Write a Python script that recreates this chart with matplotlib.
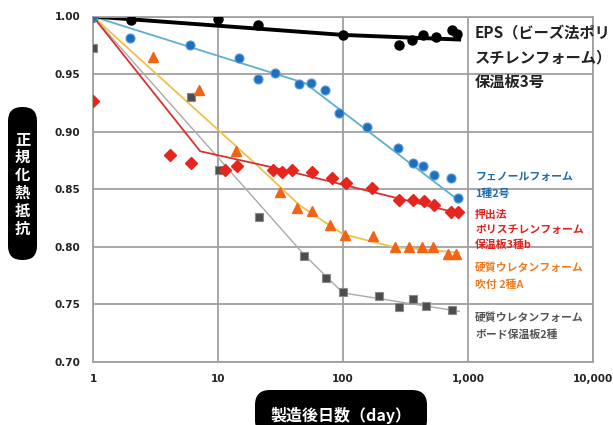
import matplotlib
matplotlib.use("Agg")
import matplotlib.pyplot as plt
from matplotlib.patches import FancyBboxPatch
from matplotlib.transforms import IdentityTransform
from matplotlib.ticker import FixedLocator, NullLocator

plt.rcParams["font.family"] = ["Noto Sans CJK JP", "DejaVu Sans"]

# EPS (bead method polystyrene foam)
eps_x = [1, 2.0, 10, 21, 100, 280, 355, 436, 553, 740, 810]
eps_y = [1.0, 0.997, 0.998, 0.993, 0.984, 0.975, 0.980, 0.984, 0.982, 0.988, 0.985]
eps_fit_x = [1, 100, 850]
eps_fit_y = [1.0, 0.984, 0.980]

# phenolic foam
phe_x = [1, 1.98, 6.0, 14.8, 21, 28.6, 44.8, 55, 72, 93, 156, 277, 361, 439, 535, 731, 827]
phe_y = [1.0, 0.981, 0.975, 0.964, 0.946, 0.951, 0.941, 0.942, 0.936, 0.916, 0.904,
         0.886, 0.873, 0.870, 0.862, 0.860, 0.842]
phe_fit_x = [1, 50, 850]
phe_fit_y = [1.0, 0.942, 0.840]

# extruded polystyrene foam
xps_x = [1, 4.13, 6.08, 11.4, 14.1, 27.7, 32.3, 38.9, 56, 81, 106, 170, 282, 364, 447,
         535, 731, 827]
xps_y = [0.927, 0.880, 0.873, 0.867, 0.870, 0.867, 0.865, 0.867, 0.865, 0.860, 0.855,
         0.851, 0.841, 0.841, 0.840, 0.836, 0.830, 0.830]
xps_fit_x = [1, 7.2, 30, 850]
xps_fit_y = [1.0, 0.883, 0.868, 0.829]

# spray rigid urethane foam
spr_x = [3.04, 7.05, 13.9, 31.3, 42.7, 56, 78.7, 104, 174, 261, 340, 425, 521, 697, 797]
spr_y = [0.965, 0.936, 0.883, 0.848, 0.834, 0.831, 0.819, 0.810, 0.809, 0.800, 0.800,
         0.800, 0.800, 0.794, 0.794]
spr_fit_x = [1, 20, 45, 100, 250, 850]
spr_fit_y = [1.0, 0.872, 0.836, 0.811, 0.800, 0.795]

# rigid urethane foam board
brd_x = [1, 6.08, 10.1, 21.2, 49, 73, 99.5, 195, 282, 364, 459, 750]
brd_y = [0.973, 0.930, 0.867, 0.826, 0.792, 0.773, 0.761, 0.757, 0.748, 0.755, 0.749, 0.745]
brd_fit_x = [1, 49, 100, 850]
brd_fit_y = [1.0, 0.793, 0.760, 0.744]

x_ticks = [1, 10, 100, 1000, 10000]
x_tick_labels = ["1", "10", "100", "1,000", "10,000"]
y_ticks = [0.70, 0.75, 0.80, 0.85, 0.90, 0.95, 1.00]

fig = plt.figure(figsize=(6.13, 4.25), dpi=100)
ax = fig.add_axes([93 / 613, 1 - 362 / 425, 500 / 613, 345.5 / 425])
ax.set_xscale("log")
ax.set_xlim(1, 10000)
ax.set_ylim(0.70, 1.00)

grid_c = "#a0a0a0"
ax.xaxis.set_major_locator(FixedLocator(x_ticks))
ax.xaxis.set_minor_locator(NullLocator())
ax.set_xticklabels(x_tick_labels)
ax.set_yticks(y_ticks)
ax.set_yticklabels([f"{v:.2f}" for v in y_ticks])
ax.grid(True, color=grid_c, lw=1.3)
ax.set_axisbelow(True)
for s in ax.spines.values():
    s.set_color(grid_c)
    s.set_linewidth(1.3)
ax.tick_params(length=0, labelsize=7.5, colors="#222222", pad=9)
for lab in ax.get_xticklabels() + ax.get_yticklabels():
    lab.set_fontweight("bold")
    lab.set_family(["DejaVu Sans"])

# fitted lines
ax.plot(brd_fit_x, brd_fit_y, color="#a9a9a9", lw=1.0, zorder=2)
ax.plot(spr_fit_x, spr_fit_y, color="#f1c04a", lw=1.3, zorder=2)
ax.plot(xps_fit_x, xps_fit_y, color="#d9322e", lw=1.3, zorder=2)
ax.plot(phe_fit_x, phe_fit_y, color="#5cb0cf", lw=1.3, zorder=2)
ax.plot(eps_fit_x, eps_fit_y, color="#000000", lw=2.8, zorder=2)

# measured points
ax.plot(brd_x, brd_y, "s", ms=6, color="#4d4d4d", mec="#8a8a8a", mew=0.8, zorder=3)
ax.plot(spr_x, spr_y, "^", ms=7, color="#f06418", mec="#f06418", zorder=3)
ax.plot(xps_x, xps_y, "D", ms=6, color="#e6261e", mec="#e6261e", zorder=3)
ax.plot(eps_x, eps_y, "o", ms=6.5, color="#000000", zorder=3)
ax.plot(phe_x, phe_y, "o", ms=6.5, color="#1f6fbf", mec="#5a9ad8", mew=0.8, zorder=4)

# series labels: (lines, y of first line, colour, size, line step in px)
labels = [
    (["EPS（ビーズ法ポリ", "スチレンフォーム）", "保温板3号"], 0.9857, "#222222", 11, 24.5),
    (["フェノールフォーム", "1種2号"], 0.8607, "#1f6aa8", 7.8, 17),
    (["押出法", "ポリスチレンフォーム", "保温板3種b"], 0.8277, "#e0221c", 7.8, 15),
    (["硬質ウレタンフォーム", "吹付 2種A"], 0.7817, "#f07a1e", 7.8, 17),
    (["硬質ウレタンフォーム", "ボード保温板2種"], 0.7383, "#555555", 7.8, 17),
]
for lines, yy, col, fs, step in labels:
    for i, line in enumerate(lines):
        ax.annotate(line, (1140, yy), xytext=(0, -step * i), textcoords="offset pixels",
                    color=col, fontsize=fs, fontweight="bold", va="center", ha="left",
                    annotation_clip=False, zorder=5)

# axis title pills
ident = IdentityTransform()
ybox = FancyBboxPatch((8, 425 - 260), 29, 153, boxstyle="round,pad=0,rounding_size=14",
                      transform=ident, fc="black", ec="none")
fig.add_artist(ybox)
for i, ch in enumerate("正規化熱抵抗"):
    fig.text(22.5 / 613, 1 - (139 + 18 * i) / 425, ch, color="white",
             fontsize=11, fontweight="bold", ha="center", va="center")

xbox = FancyBboxPatch((255, -10), 172, 35 + 10, boxstyle="round,pad=0,rounding_size=15",
                      transform=ident, fc="black", ec="none")
fig.add_artist(xbox)
fig.text(341 / 613, 1 - 415 / 425, "製造後日数（day）", color="white",
         fontsize=11.5, fontweight="bold", ha="center", va="center")

fig.savefig("out.png", dpi=100)
